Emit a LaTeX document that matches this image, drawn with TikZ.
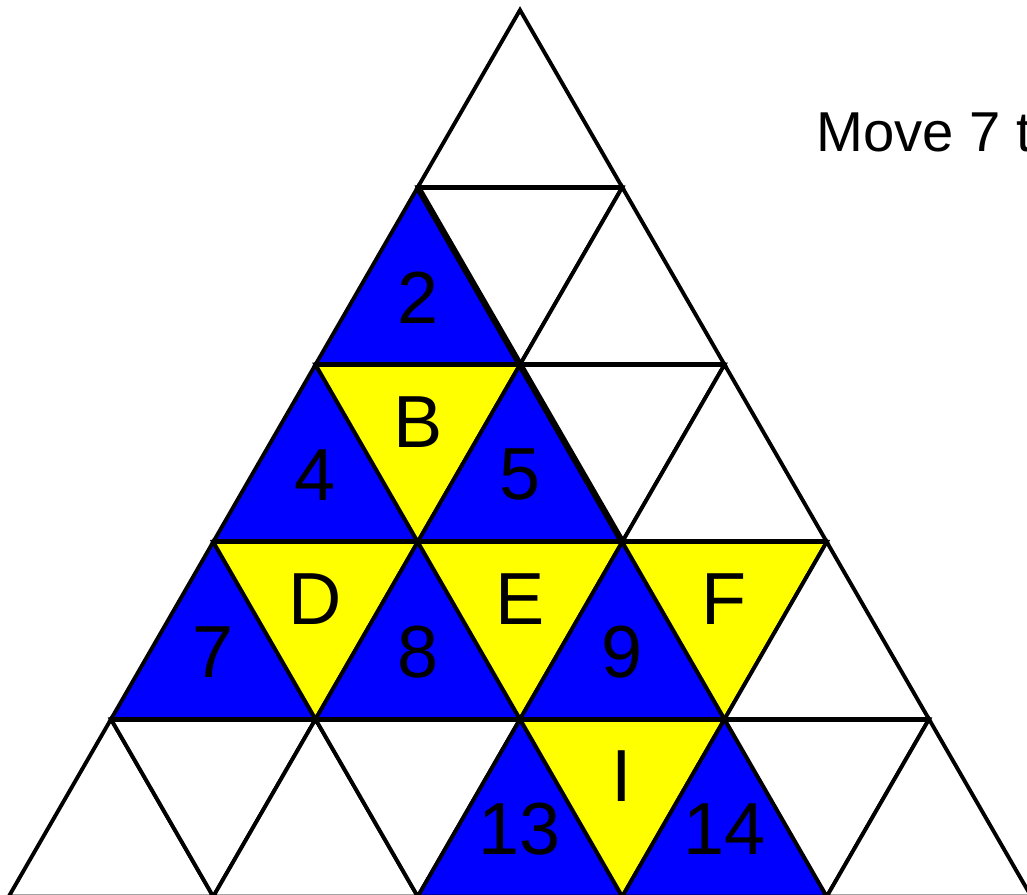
\documentclass[tikz,border=0pt]{standalone}
\usepackage{fontspec}
\setmainfont{Liberation Sans}
\usepackage{tikz}
\usetikzlibrary{
    calc,         % Required for the label centres
    backgrounds   % Optional but good for complex figures
}

\definecolor{cellblue}{RGB}{0,0,255}
\definecolor{cellyellow}{RGB}{255,255,0}

\tikzset{
    bluecell/.style={fill=cellblue, draw=black, line width=2.2pt},
    yellowcell/.style={fill=cellyellow, draw=black, line width=2.2pt},
    emptycell/.style={fill=white, draw=black, line width=2.2pt},
    celllabel/.style={font=\fontsize{42}{42}\selectfont, inner sep=0pt},
    bluecell label/.style={celllabel, yshift=4.5pt},
    yellowcell label/.style={celllabel, yshift=1pt},
    emptycell label/.style={celllabel},
    rowline/.style={draw=black, line width=2.9pt},
    thickedge/.style={draw=black, line width=3.6pt}
}

% style, three corners, label
\newcommand{\trianglecell}[5]{%
    \draw[#1] (#2) -- (#3) -- (#4) -- cycle;
    \node[#1 label] at ($1/3*(#2)+1/3*(#3)+1/3*(#4)$) {#5};
}

\begin{document}
\begin{tikzpicture}[x=0.02cm, y=-0.02cm]
        \useasboundingbox (0,0) rectangle (1027,894);
        \clip (0,0) rectangle (1027,894);

        % Grid corners
        \foreach \j in {0,...,5} {
            \foreach \i in {0,...,\j} {
                \coordinate (v\j\i) at ({520+(\i-\j/2)*204.5},{10+177.3*\j});
            }
        }

        % Row 1
        \trianglecell{emptycell}{v00}{v10}{v11}{}

        % Row 2
        \trianglecell{bluecell}{v10}{v20}{v21}{2}
        \trianglecell{emptycell}{v10}{v11}{v21}{}
        \trianglecell{emptycell}{v11}{v21}{v22}{}

        % Row 3
        \trianglecell{bluecell}{v20}{v30}{v31}{4}
        \trianglecell{yellowcell}{v20}{v21}{v31}{B}
        \trianglecell{bluecell}{v21}{v31}{v32}{5}
        \trianglecell{emptycell}{v21}{v22}{v32}{}
        \trianglecell{emptycell}{v22}{v32}{v33}{}

        % Row 4
        \trianglecell{bluecell}{v30}{v40}{v41}{7}
        \trianglecell{yellowcell}{v30}{v31}{v41}{D}
        \trianglecell{bluecell}{v31}{v41}{v42}{8}
        \trianglecell{yellowcell}{v31}{v32}{v42}{E}
        \trianglecell{bluecell}{v32}{v42}{v43}{9}
        \trianglecell{yellowcell}{v32}{v33}{v43}{F}
        \trianglecell{emptycell}{v33}{v43}{v44}{}

        % Row 5
        \trianglecell{emptycell}{v40}{v50}{v51}{}
        \trianglecell{emptycell}{v40}{v41}{v51}{}
        \trianglecell{emptycell}{v41}{v51}{v52}{}
        \trianglecell{emptycell}{v41}{v42}{v52}{}
        \trianglecell{bluecell}{v42}{v52}{v53}{13}
        \trianglecell{yellowcell}{v42}{v43}{v53}{I}
        \trianglecell{bluecell}{v43}{v53}{v54}{14}
        \trianglecell{emptycell}{v43}{v44}{v54}{}
        \trianglecell{emptycell}{v44}{v54}{v55}{}

        % Row lines
        \draw[rowline] (v10) -- (v11);
        \draw[rowline] (v20) -- (v22);
        \draw[rowline] (v30) -- (v33);
        \draw[rowline] (v40) -- (v44);

        % Heavier edges beside the white cells
        \draw[thickedge] (v10) -- (v21);
        \draw[thickedge] (v21) -- (v32);

        % Instruction
        \node[anchor=base west, inner sep=0pt, font=\fontsize{32}{38}\selectfont] (move) at (816,151) {Move 7 t};
    \end{tikzpicture}
\end{document}
